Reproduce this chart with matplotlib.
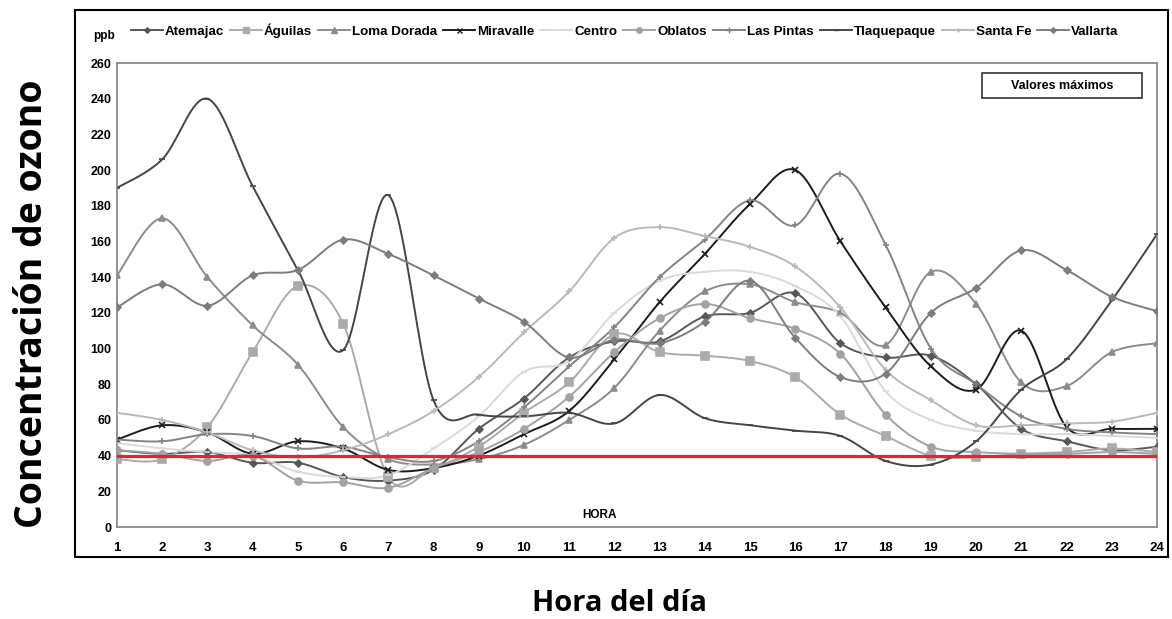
import numpy as np
import matplotlib
matplotlib.use('Agg')
import matplotlib.pyplot as plt
from matplotlib.patches import Rectangle
from matplotlib.lines import Line2D

# horas del dia y valores maximos de ozono (ppb) por estacion
horas = list(range(1, 25))
atemajac = [43, 41, 42, 36, 36, 28, 26, 32, 55, 72, 95, 104, 104, 118, 120, 131, 103, 95, 96, 80, 55, 48, 43, 45]
aguilas = [38, 38, 56, 98, 135, 114, 28, 33, 45, 64, 81, 108, 98, 96, 93, 84, 63, 51, 40, 39, 41, 42, 44, 42]
loma_dorada = [141, 173, 140, 113, 91, 56, 38, 35, 38, 46, 60, 78, 110, 132, 136, 126, 120, 102, 143, 125, 81, 79, 98, 103]
miravalle = [49, 57, 53, 41, 48, 44, 32, 33, 40, 52, 65, 94, 126, 153, 181, 200, 160, 123, 90, 77, 110, 56, 55, 55]
centro = [47, 44, 42, 40, 31, 28, 29, 44, 62, 87, 93, 120, 138, 143, 143, 135, 118, 76, 60, 54, 52, 52, 51, 50]
oblatos = [43, 41, 37, 40, 26, 25, 22, 33, 42, 55, 73, 98, 117, 125, 117, 111, 97, 63, 45, 42, 41, 41, 42, 41]
las_pintas = [49, 48, 52, 51, 44, 45, 39, 37, 48, 67, 90, 112, 140, 161, 183, 169, 198, 158, 100, 80, 62, 55, 53, 52]
tlaquepaque = [190, 206, 240, 191, 144, 99, 186, 71, 63, 62, 64, 58, 74, 61, 57, 54, 51, 37, 35, 48, 77, 94, 127, 164]
santa_fe = [64, 60, 53, 43, 39, 43, 52, 65, 84, 109, 132, 162, 168, 163, 157, 146, 123, 88, 71, 57, 57, 58, 59, 64]
vallarta = [123, 136, 124, 141, 144, 161, 153, 141, 128, 115, 95, 105, 103, 115, 138, 106, 84, 86, 120, 134, 155, 144, 129, 121]
limite = 40

y_ticks = list(range(0, 261, 20))

# nombre, datos, color, marcador, tamano
series = [
    ('Atemajac', atemajac, '#575757', 'D', 3.5),
    ('Águilas', aguilas, '#ababab', 's', 5.5),
    ('Loma Dorada', loma_dorada, '#8c8c8c', '^', 5),
    ('Miravalle', miravalle, '#1c1c1c', 'x', 4.5),
    ('Centro', centro, '#dadada', '_', 4),
    ('Oblatos', oblatos, '#a2a2a2', 'o', 5),
    ('Las Pintas', las_pintas, '#848484', '+', 5),
    ('Tlaquepaque', tlaquepaque, '#454545', '_', 4),
    ('Santa Fe', santa_fe, '#b9b9b9', '+', 4),
    ('Vallarta', vallarta, '#7d7d7d', 'D', 3.5),
]


def suave(x, y, n=20):
    # curva tipo catmull-rom como la linea suavizada de excel
    x = np.asarray(x, float)
    y = np.asarray(y, float)
    px = np.concatenate([[x[0]], x, [x[-1]]])
    py = np.concatenate([[y[0]], y, [y[-1]]])
    t = np.linspace(0, 1, n, endpoint=False)[:, None]
    xs, ys = [], []
    for i in range(1, len(x)):
        for p, out in ((px, xs), (py, ys)):
            p0, p1, p2, p3 = p[i - 1], p[i], p[i + 1], p[i + 2]
            c = 0.5 * (2 * p1 + (-p0 + p2) * t + (2 * p0 - 5 * p1 + 4 * p2 - p3) * t ** 2
                       + (-p0 + 3 * p1 - 3 * p2 + p3) * t ** 3)
            out.extend(c.ravel())
    xs.append(x[-1])
    ys.append(y[-1])
    return xs, ys


plt.rcParams['font.family'] = ['Liberation Sans', 'DejaVu Sans']
fig = plt.figure(figsize=(11.72, 6.19), dpi=100)
ax = fig.add_axes([117 / 1172, 1 - 527 / 619, 1040 / 1172, 464 / 619])

handles = []
for nombre, datos, color, marca, tam in series:
    sx, sy = suave(horas, datos)
    ax.plot(sx, sy, color=color, lw=1.4, zorder=2)
    ax.plot(horas, datos, linestyle='none', marker=marca, color=color, markersize=tam,
            markeredgewidth=1.2, zorder=3)
    handles.append(Line2D([], [], color=color, lw=1.4, marker=marca, markersize=tam * 0.8,
                          markeredgewidth=1.0))

ax.axhline(limite, color='#e3262c', lw=2.3, zorder=5)

ax.set_xlim(1, 24)
ax.set_ylim(0, 260)
ax.set_xticks(horas)
ax.set_yticks(y_ticks)
ax.tick_params(axis='x', length=0, pad=11, labelsize=9.5)
ax.tick_params(axis='y', length=0, pad=4, labelsize=9)
for lab in ax.get_xticklabels() + ax.get_yticklabels():
    lab.set_fontweight('bold')
for s in ax.spines.values():
    s.set_color('#8a8a8a')
    s.set_linewidth(1.3)

ax.text(0.4644, 0.026, 'HORA', transform=ax.transAxes, ha='center', va='center',
        fontsize=8.5, fontweight='bold')

# cuadro de valores maximos
ax.add_patch(Rectangle((0.8317, 0.9246), 0.1538, 0.0539, transform=ax.transAxes,
                       fill=False, edgecolor='#333333', lw=1.2, zorder=6))
ax.text(0.9086, 0.9515, 'Valores máximos', transform=ax.transAxes, ha='center', va='center',
        fontsize=9, fontweight='bold', zorder=6)

fig.legend(handles, [s[0] for s in series], loc='center', bbox_to_anchor=(0.533, 0.951),
           ncol=10, frameon=False, handlelength=2.4, handletextpad=0.15, columnspacing=0.45,
           prop={'weight': 'bold', 'size': 9.6})
fig.text(104 / 1172, 1 - 36 / 619, 'ppb', ha='center', va='center', fontsize=8.5, fontweight='bold')

# marco exterior
fig.patches.append(Rectangle((75 / 1172, 1 - 557 / 619), 1093 / 1172, 547 / 619,
                             transform=fig.transFigure, fill=False, edgecolor='black', lw=1.5))

fig.text(0.027, 0.51, 'Concentración de ozono', rotation=90, ha='center', va='center',
         fontsize=27, fontweight='bold', family='Open Sans')
fig.text(0.529, 0.025, 'Hora del día', ha='center', va='center',
         fontsize=21, fontweight='bold', family='Open Sans')

fig.savefig('out.png', dpi=100)
